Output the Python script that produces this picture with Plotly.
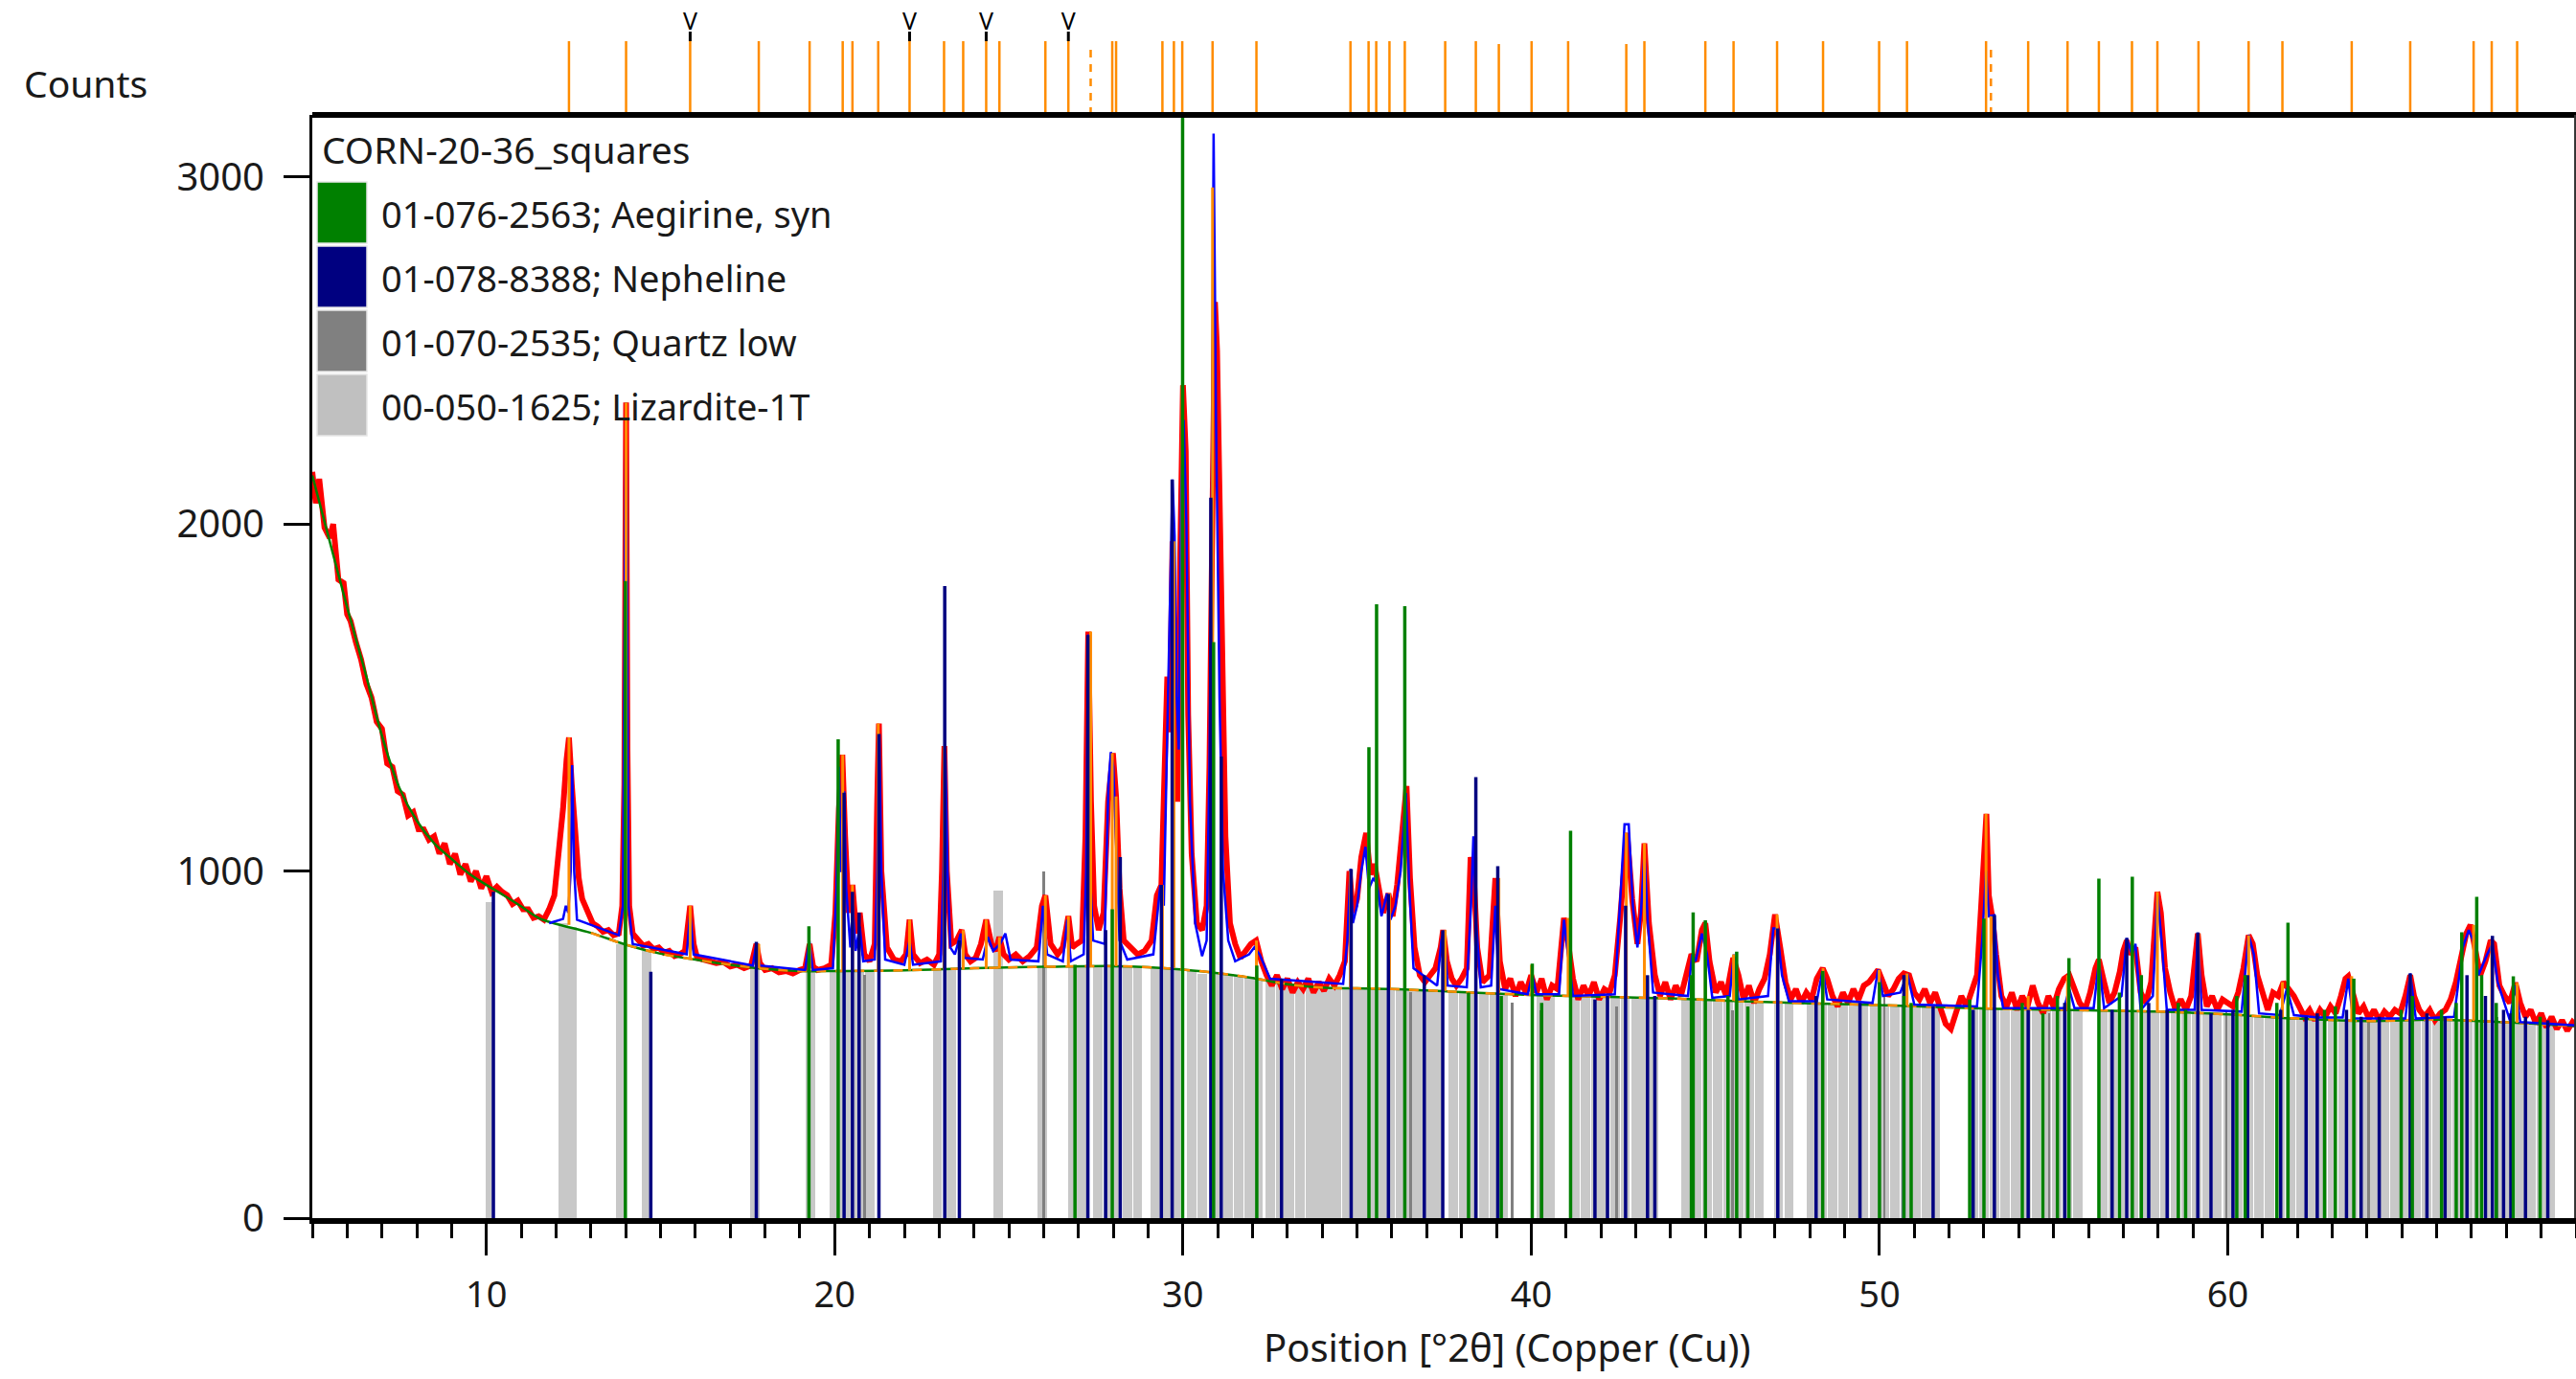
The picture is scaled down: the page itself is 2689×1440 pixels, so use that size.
import plotly.graph_objects as go

# ---------------- data ----------------
# observed scan (red)
obs_x = [5.00,5.10,5.20,5.35,5.50,5.60,5.75,5.90,6.00,6.10,6.25,6.40,6.55,6.70,6.85,7.00,7.15,7.30,7.45,7.60,
         7.75,7.90,8.05,8.20,8.35,8.50,8.65,8.80,8.95,9.10,9.25,9.40,9.55,9.70,9.85,10.00,10.15,10.30,10.45,10.60,
         10.75,10.90,11.05,11.20,11.35,11.50,11.65,11.80,11.95,12.10,12.20,12.30,12.37,12.45,12.55,12.65,12.75,12.90,13.05,13.20,
         13.35,13.50,13.65,13.80,13.90,13.96,14.01,14.05,14.10,14.20,14.35,14.50,14.65,14.80,14.95,15.10,15.25,15.40,15.55,15.70,
         15.85,15.95,16.05,16.20,16.40,16.60,16.80,17.00,17.20,17.40,17.60,17.75,17.85,18.00,18.20,18.40,18.60,18.80,19.00,19.15,
         19.28,19.38,19.50,19.70,19.90,20.02,20.12,20.22,20.30,20.40,20.51,20.62,20.72,20.85,21.00,21.15,21.22,21.27,21.34,21.50,
         21.70,21.90,22.05,22.15,22.25,22.45,22.65,22.85,23.00,23.08,23.15,23.22,23.35,23.50,23.65,23.75,23.90,24.05,24.20,24.35,
         24.50,24.62,24.73,24.85,25.00,25.20,25.40,25.60,25.80,25.95,26.05,26.20,26.40,26.55,26.71,26.82,26.95,27.10,27.20,27.28,
         27.36,27.45,27.58,27.72,27.85,27.93,27.99,28.08,28.18,28.30,28.50,28.70,28.90,29.10,29.25,29.38,29.46,29.55,29.62,29.70,
         29.76,29.84,29.92,30.00,30.08,30.15,30.25,30.40,30.55,30.68,30.76,30.84,30.92,30.98,31.04,31.12,31.22,31.35,31.50,31.65,
         31.80,31.95,32.10,32.25,32.40,32.55,32.70,32.85,33.00,33.15,33.30,33.45,33.60,33.75,33.90,34.05,34.20,34.35,34.50,34.65,
         34.78,34.88,35.00,35.12,35.26,35.38,35.50,35.62,35.75,35.90,36.02,36.15,36.27,36.42,36.52,36.65,36.80,36.95,37.10,37.25,
         37.40,37.47,37.58,37.72,37.85,38.00,38.15,38.26,38.35,38.45,38.60,38.80,38.97,39.10,39.25,39.40,39.55,39.70,39.85,40.00,
         40.15,40.30,40.45,40.60,40.75,40.94,41.05,41.20,41.35,41.50,41.65,41.80,41.95,42.10,42.25,42.40,42.55,42.75,42.90,43.05,
         43.15,43.25,43.38,43.55,43.70,43.85,44.00,44.15,44.30,44.45,44.60,44.75,44.90,45.00,45.12,45.30,45.45,45.60,45.80,45.95,
         46.10,46.25,46.40,46.55,46.70,46.85,47.00,47.15,47.30,47.45,47.60,47.75,47.90,48.05,48.20,48.37,48.50,48.65,48.80,48.95,
         49.10,49.25,49.40,49.55,49.70,49.85,49.96,50.10,50.25,50.40,50.55,50.70,50.85,51.00,51.15,51.30,51.45,51.60,51.75,51.90,
         52.05,52.20,52.35,52.50,52.65,52.80,52.92,53.00,53.07,53.14,53.25,53.35,53.50,53.65,53.80,53.95,54.10,54.25,54.40,54.55,
         54.70,54.85,55.00,55.15,55.30,55.45,55.60,55.75,55.90,56.05,56.20,56.30,56.45,56.60,56.75,56.90,57.00,57.10,57.20,57.35,
         57.50,57.65,57.80,57.90,57.98,58.08,58.20,58.35,58.50,58.65,58.80,58.95,59.05,59.14,59.25,59.40,59.55,59.70,59.85,60.00,
         60.15,60.30,60.45,60.60,60.72,60.85,61.00,61.15,61.30,61.45,61.60,61.75,61.90,62.05,62.20,62.35,62.50,62.65,62.80,62.95,
         63.10,63.25,63.38,63.46,63.60,63.75,63.90,64.05,64.20,64.35,64.50,64.65,64.80,64.95,65.10,65.24,65.35,65.50,65.65,65.80,
         65.95,66.10,66.25,66.40,66.55,66.70,66.85,66.97,67.10,67.25,67.40,67.55,67.65,67.80,67.95,68.10,68.26,68.40,68.55,68.70,
         68.85,69.00,69.15,69.30,69.45,69.60,69.75,69.90,70.00]
obs_y = [2150,2060,2130,1990,1960,2000,1840,1830,1740,1720,1660,1610,1540,1500,1430,1410,1310,1300,1230,1220,
         1160,1170,1120,1120,1090,1100,1050,1080,1020,1050,990,1020,970,1000,950,985,940,955,940,930,
         905,915,890,890,865,870,860,890,930,1060,1180,1320,1385,1250,1100,980,920,880,850,840,
         825,830,815,820,900,1250,2350,1350,900,820,800,785,790,775,780,765,770,755,760,770,
         900,790,750,745,740,735,738,725,730,720,728,790,735,715,720,708,712,705,715,720,
         790,725,715,720,730,880,1180,1335,1100,880,960,820,880,760,740,790,1200,1425,1000,780,
         745,740,760,860,760,735,745,730,760,1000,1360,1000,790,800,830,760,740,750,790,860,
         790,770,810,760,745,760,740,755,780,900,930,790,760,780,870,780,790,800,1100,1690,
         1200,900,830,880,1200,1290,1340,1215,950,800,780,760,770,800,930,960,1250,1560,1400,1950,
         1550,1200,1900,2400,2210,1450,1050,850,830,900,1300,2100,2640,2500,2170,1530,1100,850,790,750,
         770,790,800,740,700,670,700,660,690,650,680,660,690,650,680,655,690,670,700,740,
         1000,880,920,1040,1110,990,1020,950,880,935,870,960,1080,1245,980,780,700,680,700,720,
         780,830,740,690,670,690,720,1040,990,780,680,700,980,740,660,690,640,680,650,700,
         650,690,630,670,660,865,800,690,630,670,640,680,630,660,650,700,860,1110,920,790,
         880,1080,850,700,640,680,630,670,640,700,760,740,830,850,740,650,680,640,750,700,
         630,670,620,660,690,760,875,780,680,630,660,620,650,630,690,720,690,640,610,650,
         620,660,630,670,680,700,715,680,640,660,690,705,700,650,630,660,620,650,600,560,
         545,600,640,610,650,700,900,1080,1165,930,860,760,640,610,650,600,640,610,670,620,
         590,640,610,660,690,700,660,620,600,650,720,745,680,620,650,710,770,800,760,780,
         650,620,680,830,940,880,720,650,600,630,600,640,720,820,700,610,640,600,630,620,
         610,650,720,815,790,700,650,600,650,640,680,660,640,610,580,600,570,600,580,610,
         590,640,690,697,640,590,610,575,600,570,595,580,600,590,640,700,640,600,580,600,
         570,590,600,630,680,760,820,845,780,700,740,800,790,670,640,620,678,620,580,600,
         560,590,550,580,545,570,540,565,555]

# background (green / orange dashed)
bg_x = [5.0,5.5,6.0,6.5,7.0,7.5,8.0,8.5,9.0,9.5,10.0,10.5,11.0,11.5,12.0,13.0,14.0,15.0,16.0,17.0,
        18.0,19.0,20.0,22.0,24.0,26.0,28.0,29.0,30.0,31.0,32.0,33.0,34.0,35.0,36.0,37.0,38.0,40.0,42.0,44.0,
        46.0,48.0,50.0,52.0,54.0,56.0,58.0,60.0,62.0,64.0,66.0,68.0,70.0]
bg_y = [2140,1950,1760,1580,1390,1240,1145,1080,1035,993,960,930,898,865,848,822,788,762,745,730,
        718,712,712,714,720,724,726,723,716,706,692,674,664,662,660,656,651,643,638,633,
        625,619,614,607,602,599,595,587,575,568,572,564,553]

# calculated profile (blue)
calc_x = [11.80,12.20,12.28,12.35,12.42,12.46,12.52,12.60,13.80,13.92,13.97,14.01,14.04,14.08,14.20,15.75,15.85,15.95,17.65,17.75,
          17.85,19.15,19.27,19.37,19.95,20.05,20.12,20.18,20.23,20.27,20.33,20.45,20.52,20.60,20.72,20.82,21.15,21.22,21.28,21.34,
          21.45,22.00,22.15,22.25,23.05,23.12,23.18,23.24,23.32,23.45,23.62,23.72,24.25,24.40,24.55,24.75,24.90,25.05,25.85,25.98,
          26.10,26.55,26.68,26.78,27.15,27.22,27.28,27.33,27.42,27.75,27.86,27.93,28.00,28.08,28.18,28.40,29.15,29.35,29.45,29.55,
          29.62,29.70,29.76,29.82,29.88,29.95,30.02,30.10,30.20,30.35,30.55,30.68,30.76,30.83,30.88,30.95,31.05,31.15,31.30,31.50,
          31.90,32.05,32.20,32.50,34.60,34.72,34.81,34.88,35.00,35.12,35.24,35.34,35.47,35.58,35.70,35.86,35.96,36.10,36.25,36.40,
          36.50,36.62,37.30,37.42,37.50,37.60,38.15,38.27,38.34,38.42,38.55,38.85,38.97,39.07,39.90,40.03,40.15,40.80,40.94,41.06,
          41.20,42.40,42.55,42.68,42.80,42.92,43.05,43.15,43.25,43.35,43.50,44.50,44.62,44.72,44.90,45.05,45.20,45.70,45.82,45.95,
          46.80,46.95,47.06,47.20,47.40,48.20,48.37,48.50,49.80,49.96,50.10,50.60,50.80,51.00,52.80,52.95,53.06,53.14,53.30,53.40,
          53.55,55.30,55.45,55.60,56.15,56.30,56.45,56.95,57.10,57.25,57.35,57.50,57.85,57.98,58.10,58.25,59.05,59.14,59.25,60.40,
          60.60,60.75,60.90,61.50,61.70,61.90,62.60,63.30,63.46,63.60,65.10,65.24,65.40,66.50,66.75,66.92,67.05,67.20,67.45,67.60,
          67.75,68.10,68.26,68.40,70.00]
calc_y = [850,862,900,880,1000,1305,1000,860,815,900,1800,2350,1800,900,790,760,880,760,728,790,
          728,715,800,715,720,950,1300,1000,1000,1230,950,780,900,770,840,740,745,1000,1395,1000,
          745,730,800,730,740,1000,1340,1000,780,760,820,750,745,810,770,790,820,745,740,900,
          760,740,860,740,760,1000,1682,1000,800,790,1250,1343,1300,1100,800,745,760,960,900,1400,
          1700,2128,1966,1500,1350,2100,2300,2000,1200,850,755,800,1300,2080,3125,2300,1500,1000,800,740,
          760,780,760,690,675,800,1006,850,900,1000,1070,950,980,960,870,935,860,900,1000,1225,
          950,720,670,800,829,670,665,900,1100,850,665,670,900,660,645,700,645,645,860,760,
          640,645,900,1135,1135,900,780,880,1050,850,650,640,760,740,820,760,635,640,760,630,
          640,835,835,700,625,625,716,630,620,716,640,650,704,615,610,800,1000,870,873,700,
          605,605,660,605,605,740,605,640,807,760,790,600,640,930,800,600,600,823,600,595,
          816,760,590,585,662,585,578,578,690,575,575,705,575,580,780,830,800,700,760,790,
          680,570,670,565,555]

# peak list (orange): position, top, base
peak_pos = [12.37,14.01,15.85,17.82,19.28,20.23,20.51,21.25,22.15,23.14,23.69,24.35,24.73,26.05,26.71,27.35,27.97,28.08,29.41,29.74,
            29.98,30.85,32.11,34.81,35.33,35.55,35.93,36.37,37.53,38.41,39.07,40.01,41.06,42.73,43.25,45.00,45.81,47.06,48.38,49.99,
            50.79,53.06,53.20,54.27,55.40,56.30,57.25,57.98,59.16,60.60,61.57,63.56,65.24,67.06,67.58,68.31]
peak_top = [1385,2350,900,790,790,1335,960,1425,860,1360,830,860,810,930,870,1690,1340,1215,960,1950,
            2400,2970,800,1000,1110,1020,935,1245,830,1040,980,730,865,1110,1080,850,760,875,720,715,
            705,1165,870,640,700,745,790,940,820,815,680,697,700,845,800,678]
peak_base = [845,788,750,720,710,712,712,712,713,715,716,718,719,722,724,725,726,726,723,721,
             716,708,690,662,662,662,661,660,655,650,648,643,640,638,636,628,626,621,618,614,
             612,606,606,602,600,599,597,596,592,584,578,569,571,568,566,563]
peak_dashed = [27.35, 53.20]
peak_short = [39.07, 42.73]
v_marks = [15.85, 22.15, 24.35, 26.71]

# reference patterns
aeg_pos = [13.99,19.26,20.10,26.90,27.97,29.99,30.88,32.12,35.34,35.56,36.37,38.20,39.14,40.03,40.30,41.13,44.60,44.65,45.00,45.65,
           45.90,46.22,48.37,50.00,50.70,50.91,52.59,53.00,54.10,54.69,55.11,55.44,56.30,56.89,57.26,57.52,58.58,58.79,60.26,60.50,
           61.41,61.73,62.78,63.09,63.62,64.98,65.30,66.14,66.56,66.72,67.15,67.29,67.71,68.20,68.97]
aeg_h = [1836,841,1380,730,890,3300,1660,728,1357,1769,1763,650,640,733,620,1116,700,881,858,640,
         768,610,712,680,640,620,630,863,620,590,640,749,978,650,984,700,620,600,640,700,
         620,851,600,610,690,600,640,600,620,824,926,700,620,697,580]
nep_pos = [10.20,14.72,17.75,20.27,20.51,20.70,21.27,23.16,23.58,27.27,27.78,28.20,29.38,29.69,30.80,31.10,32.83,34.83,35.90,36.93,
           37.46,38.41,39.04,41.83,42.19,42.71,43.34,43.55,47.08,48.18,49.44,50.70,51.54,52.69,53.30,54.27,55.32,56.68,57.10,57.73,
           58.26,59.14,59.52,60.15,60.57,61.52,62.25,62.57,63.41,63.83,64.35,65.24,65.72,66.24,66.87,67.40,67.60,67.92,68.13,68.55,69.19]
nep_h = [940,710,796,1226,940,880,1395,1821,800,1680,830,1040,960,2128,2076,1330,690,1006,934,700,
         829,1271,1014,630,640,900,700,640,835,640,620,700,610,600,873,600,620,600,807,620,
         600,823,590,600,700,600,580,590,600,580,580,705,590,580,700,640,813,600,590,580,570]
qtz_pos = [20.86,26.01,36.54,39.46,40.29,42.45,45.79,50.14,54.87,59.96,64.04,67.74,68.14]
qtz_h = [700,998,650,620,600,610,600,640,590,600,570,580,580]
liz_pos = [10.10,12.20,12.45,13.85,14.60,17.70,19.30,20.00,20.25,20.45,20.70,21.00,22.95,23.35,24.70,25.95,26.85,27.10,27.55,27.85,
           28.10,28.40,28.70,29.20,29.50,29.80,30.25,30.55,31.00,31.30,31.60,31.90,32.15,32.50,32.80,33.05,33.35,33.65,33.90,34.15,
           34.40,34.70,35.00,35.20,35.45,35.70,35.95,36.25,36.55,36.80,37.05,37.30,37.75,38.05,38.35,38.65,38.95,39.20,40.30,40.55,
           41.25,41.55,41.85,42.10,42.40,42.70,43.00,43.25,43.50,44.45,44.75,45.05,45.35,45.65,45.95,46.25,46.55,47.10,47.40,48.05,
           48.35,48.65,48.95,49.25,49.55,49.85,50.15,50.45,50.75,51.05,51.35,51.60,52.70,53.00,53.30,53.60,53.90,54.20,54.50,54.80,
           55.10,55.40,55.70,56.40,56.70,57.00,57.30,57.60,57.90,58.20,58.50,58.80,59.10,59.40,59.70,60.00,60.30,60.60,60.90,61.20,
           61.50,61.80,62.10,62.40,62.70,63.00,63.30,63.60,63.90,64.20,64.50,64.80,65.10,65.40,65.70,66.00,66.30,66.60,66.90,67.20,
           67.50,67.80,68.10,68.40,68.70,69.00,69.25]
liz_h = [910,850,840,790,770,720,715,712,715,714,712,712,720,718,945,720,725,725,725,725,
         725,725,724,722,720,718,714,705,705,700,700,694,690,684,678,672,668,668,666,664,
         663,662,662,662,662,662,661,660,658,657,655,654,652,650,649,648,647,646,642,641,
         640,640,639,638,638,637,636,635,634,630,630,628,628,626,625,624,623,621,620,619,
         618,617,617,616,616,615,614,613,612,611,610,609,607,606,605,604,603,602,602,601,
         601,600,600,599,598,598,597,597,596,595,594,593,592,591,590,588,586,584,582,580,
         578,576,574,572,571,570,569,568,568,568,569,570,571,572,573,573,573,572,570,568,
         567,566,565,563,561,559,557]

x_ticks = [10, 20, 30, 40, 50, 60]
y_ticks = [0, 1000, 2000, 3000]
legend_title = "CORN-20-36_squares"
legend_labels = ["01-076-2563; Aegirine, syn", "01-078-8388; Nepheline",
                 "01-070-2535; Quartz low", "00-050-1625; Lizardite-1T"]
legend_colors = ["#008000", "#000080", "#808080", "#c0c0c0"]

# ---------------- layout geometry (pixels) ----------------
W, H = 2689, 1440
L, R, B = 326, 0, 168
PW, PH = W - L - R, H - B          # plot area (top margin 0)
MAIN_TOP_PX = 120
main_top = (PH - MAIN_TOP_PX) / PH
FONT = "Noto Sans, Open Sans, DejaVu Sans, sans-serif"


def px(x):
    return (x - L) / PW


def py(y):
    return (PH - y) / PH


def segs(xs, y0s, y1s):
    X, Y = [], []
    for x, a, b in zip(xs, y0s, y1s):
        X += [x, x, None]
        Y += [a, b, None]
    return X, Y


fig = go.Figure()

# Lizardite (light grey wide bars) and quartz
fig.add_trace(go.Bar(x=liz_pos, y=liz_h, width=0.27, marker=dict(color="#c8c8c8", line=dict(width=0)),
                     name=legend_labels[3], showlegend=False))
fig.add_trace(go.Bar(x=qtz_pos, y=qtz_h, width=0.08, marker=dict(color="#808080", line=dict(width=0)),
                     name=legend_labels[2], showlegend=False))

# observed
fig.add_trace(go.Scatter(x=obs_x, y=obs_y, mode="lines", line=dict(color="#ff0000", width=6),
                         showlegend=False))
# background
fig.add_trace(go.Scatter(x=bg_x, y=bg_y, mode="lines", line=dict(color="#008000", width=2.5, shape="spline"),
                         showlegend=False))
fig.add_trace(go.Scatter(x=bg_x[15:], y=bg_y[15:], mode="lines",
                         line=dict(color="#ff8c00", width=2.5, dash="10px,10px", shape="spline"),
                         showlegend=False))
# calculated
fig.add_trace(go.Scatter(x=calc_x, y=calc_y, mode="lines", line=dict(color="#0000ff", width=2.5),
                         showlegend=False))
# peak sticks (orange)
sx, sy = segs(peak_pos, peak_base, peak_top)
fig.add_trace(go.Scatter(x=sx, y=sy, mode="lines", line=dict(color="#ff8c00", width=3), showlegend=False))
# Nepheline sticks
sx, sy = segs(nep_pos, [0] * len(nep_pos), nep_h)
fig.add_trace(go.Scatter(x=sx, y=sy, mode="lines", line=dict(color="#000080", width=3.5), showlegend=False))
# Aegirine sticks
sx, sy = segs(aeg_pos, [0] * len(aeg_pos), aeg_h)
fig.add_trace(go.Scatter(x=sx, y=sy, mode="lines", line=dict(color="#008000", width=3.5), showlegend=False))

# top strip: peak list ticks
solid = [p for p in peak_pos if p not in peak_dashed]
tops = [74 if p in peak_short else 77 for p in solid]
sx, sy = segs(solid, [0] * len(solid), tops)
fig.add_trace(go.Scatter(x=sx, y=sy, mode="lines", line=dict(color="#ff8c00", width=2.5),
                         yaxis="y2", showlegend=False))
sx, sy = segs(peak_dashed, [0] * len(peak_dashed), [72] * len(peak_dashed))
fig.add_trace(go.Scatter(x=sx, y=sy, mode="lines", line=dict(color="#ff8c00", width=2.5, dash="8px,7px"),
                         yaxis="y2", showlegend=False))
sx, sy = segs(v_marks, [77] * len(v_marks), [87] * len(v_marks))
fig.add_trace(go.Scatter(x=sx, y=sy, mode="lines", line=dict(color="#000000", width=3),
                         yaxis="y2", showlegend=False))
fig.add_trace(go.Scatter(x=v_marks, y=[95] * len(v_marks), mode="text", text=["V"] * len(v_marks),
                         textposition="middle center", cliponaxis=False,
                         textfont=dict(family=FONT, size=25, color="#000000"),
                         yaxis="y2", showlegend=False))

shapes = [
    dict(type="line", xref="paper", yref="paper", x0=0, x1=1, y0=main_top, y1=main_top,
         line=dict(color="#000000", width=6)),
    dict(type="line", xref="paper", yref="paper", x0=0.9996, x1=0.9996, y0=0, y1=main_top,
         line=dict(color="#333333", width=2)),
]
annotations = [
    dict(text="Counts", xref="paper", yref="paper", x=px(89), y=py(86), xanchor="center", yanchor="middle",
         showarrow=False, font=dict(family=FONT, size=39, color="#1a1a1a")),
    dict(text="Position [°2θ] (Copper (Cu))", xref="paper", yref="paper", x=px(1573), y=py(1406),
         xanchor="center", yanchor="middle", showarrow=False, font=dict(family=FONT, size=40, color="#1a1a1a")),
    dict(text=legend_title, xref="paper", yref="paper", x=px(334), y=py(156), xanchor="left", yanchor="middle",
         showarrow=False, font=dict(family=FONT, size=39, color="#1a1a1a")),
]
row_top = [190, 257, 324, 391]
for i, (lab, col) in enumerate(zip(legend_labels, legend_colors)):
    t = row_top[i]
    shapes.append(dict(type="rect", xref="paper", yref="paper", x0=px(331), x1=px(383),
                       y0=py(t + 64), y1=py(t), fillcolor=col, line=dict(color="#e6e6e6", width=1.5)))
    annotations.append(dict(text=lab, xref="paper", yref="paper", x=px(396), y=py(t + 33), xanchor="left",
                            yanchor="middle", showarrow=False,
                            font=dict(family=FONT, size=38, color="#1a1a1a")))

fig.update_layout(
    width=W, height=H, autosize=False,
    margin=dict(l=L, r=R, t=0, b=B, pad=0),
    paper_bgcolor="white", plot_bgcolor="white",
    barmode="overlay", bargap=0, hovermode=False, showlegend=False,
    font=dict(family=FONT, color="#1a1a1a"),
    xaxis=dict(range=[5, 70], tickvals=x_ticks, ticktext=[str(v) for v in x_ticks],
               ticks="outside", ticklen=33, tickwidth=2.5, tickcolor="#000000",
               tickfont=dict(family=FONT, size=38, color="#1a1a1a"), ticklabelstandoff=8,
               minor=dict(dtick=1, tick0=0, ticks="outside", ticklen=15, tickwidth=2.5, tickcolor="#000000"),
               showline=True, linewidth=6, linecolor="#000000", showgrid=False, zeroline=False,
               anchor="y", automargin=False, fixedrange=True),
    yaxis=dict(domain=[0, main_top], range=[0, (PH - MAIN_TOP_PX) / 0.3624], tickvals=y_ticks,
               ticktext=[str(v) for v in y_ticks],
               ticks="outside", ticklen=27, tickwidth=2.5, tickcolor="#000000",
               tickfont=dict(family=FONT, size=40, color="#1a1a1a"), ticklabelstandoff=12,
               showline=True, linewidth=3, linecolor="#000000", showgrid=False, zeroline=False,
               automargin=False, fixedrange=True),
    yaxis2=dict(domain=[main_top, 1], range=[0, MAIN_TOP_PX], visible=False, anchor="x", fixedrange=True),
    shapes=shapes, annotations=annotations,
)

fig.write_html("out.html")
